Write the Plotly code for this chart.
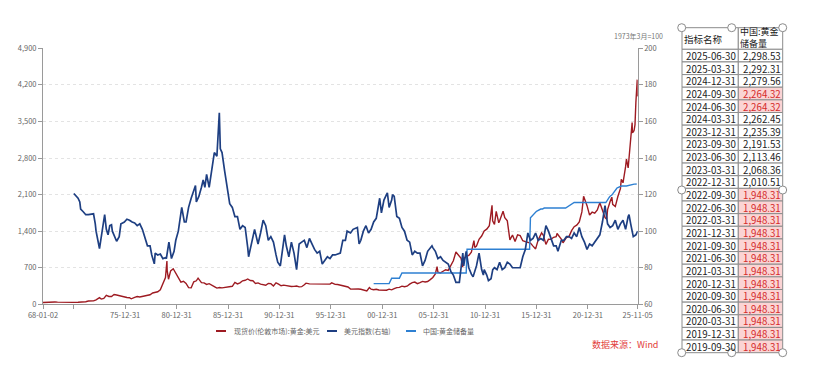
import plotly.graph_objects as go

W, H = 821, 380

# ---------------- data ----------------
gold_dates = ["1968-01-02","1968-03","1968-06","1968-12","1969-03","1969-06","1969-12","1970-06","1970-12","1971-06","1971-12",
"1972-03","1972-06","1972-09","1972-12","1973-03","1973-06","1973-07","1973-09","1973-12","1974-03","1974-06","1974-09","1974-12",
"1975-03","1975-06","1975-09","1975-12","1976-03","1976-06","1976-08","1976-12","1977-03","1977-06","1977-09","1977-12",
"1978-03","1978-06","1978-09","1978-12","1979-03","1979-06","1979-09","1979-12","1980-01-21","1980-02","1980-03-18","1980-06",
"1980-09","1980-12","1981-03","1981-06","1981-09","1981-12","1982-03","1982-06","1982-09","1982-12","1983-02","1983-06","1983-09",
"1983-12","1984-03","1984-06","1984-09","1984-12","1985-03","1985-06","1985-09","1985-12","1986-03","1986-06","1986-09","1986-12",
"1987-03","1987-06","1987-09","1987-12","1988-03","1988-06","1988-09","1988-12","1989-03","1989-06","1989-09","1989-12",
"1990-03","1990-06","1990-09","1990-12","1991-03","1991-06","1991-09","1991-12","1992-03","1992-06","1992-09","1992-12",
"1993-03","1993-06","1993-08","1993-12","1994-03","1994-06","1994-09","1994-12","1995-03","1995-06","1995-09","1995-12",
"1996-02","1996-06","1996-09","1996-12","1997-03","1997-06","1997-09","1997-12","1998-03","1998-06","1998-09","1998-12",
"1999-03","1999-07","1999-10","1999-12","2000-03","2000-06","2000-09","2000-12","2001-03","2001-06","2001-09","2001-12",
"2002-03","2002-06","2002-09","2002-12","2003-03","2003-06","2003-09","2003-12","2004-03","2004-06","2004-09","2004-12",
"2005-03","2005-06","2005-09","2005-12","2006-03","2006-05","2006-06","2006-09","2006-12","2007-03","2007-06","2007-09",
"2007-12","2008-03","2008-06","2008-09","2008-10-24","2008-12","2009-03","2009-06","2009-09","2009-12","2010-01","2010-03",
"2010-06","2010-09","2010-12","2011-03","2011-06","2011-08","2011-09-05","2011-09-26","2011-12","2012-02","2012-05","2012-06",
"2012-10","2012-12","2013-03","2013-06","2013-09","2013-12","2014-03","2014-06","2014-09","2014-12","2015-03","2015-06",
"2015-09","2015-12","2016-03","2016-07","2016-09","2016-12","2017-03","2017-06","2017-09","2017-12","2018-01","2018-06",
"2018-08","2018-12","2019-03","2019-06","2019-09","2019-12","2020-03","2020-06","2020-08","2020-12","2021-03","2021-06",
"2021-09","2021-12","2022-03","2022-06","2022-09","2022-11","2022-12","2023-03","2023-05","2023-06","2023-09","2023-12",
"2024-03","2024-04","2024-06","2024-09","2024-10","2024-12","2025-01","2025-02","2025-03","2025-04-21","2025-05","2025-06",
"2025-07","2025-08","2025-09","2025-10-20","2025-11-05"]
gold_values = [35.2,38,41,41.5,43,41,35,35.5,37.4,40,43.6,
48,64,65,64.9,84,120,127,100,112,170,150,150,187,
178,166,142,140,130,125,105,134,148,141,154,165,
181,183,217,226,240,278,397,512,830,640,480,640,
680,590,500,425,440,400,320,315,430,450,500,415,410,
380,395,375,340,310,320,315,325,327,345,345,420,390,
410,450,460,485,455,450,400,410,385,370,365,400,
395,352,410,386,355,367,355,353,342,343,350,333,
337,375,405,390,390,385,395,382,390,387,384,387,
410,382,380,369,350,334,332,290,296,296,294,288,
280,255,320,290,278,288,273,272,258,270,290,277,
300,320,323,347,335,346,385,416,425,395,415,438,
428,437,473,513,582,720,613,600,632,662,650,743,
834,1000,930,880,712,870,916,934,996,1218,1087,1113,
1244,1307,1405,1439,1505,1813,1895,1600,1531,1780,1560,1598,
1780,1657,1598,1234,1326,1204,1330,1315,1216,1199,1187,1172,
1114,1060,1232,1366,1322,1146,1245,1242,1283,1296,1355,1250,
1178,1279,1295,1409,1485,1515,1577,1768,2067,1888,1708,1763,
1743,1806,1942,1817,1661,1630,1812,1969,2050,1912,1871,2063,
2214,2390,2326,2634,2780,2609,2800,2940,3115,3480,3290,3300,
3330,3440,3860,4300,3980]

dxy_dates = ["1971-01","1971-04","1971-06","1971-08","1971-09","1971-12","1972-03","1972-06","1972-12","1973-02","1973-03","1973-07",
"1973-09","1974-01","1974-03","1974-05","1974-07","1974-09","1974-10","1974-12","1975-03","1975-06","1975-08","1975-10","1975-12",
"1976-03","1976-06","1976-09","1976-12","1977-03","1977-06","1977-09","1977-12","1978-03","1978-06","1978-08","1978-10-31","1978-12",
"1979-03","1979-06","1979-09","1979-12","1980-01","1980-04","1980-07","1980-10","1980-12","1981-03","1981-07","1981-10","1981-12",
"1982-03","1982-06","1982-08","1982-11","1982-12","1983-03","1983-06","1983-08","1983-10","1983-12","1984-03","1984-06","1984-09",
"1984-12","1985-02-25","1985-04","1985-06","1985-09","1985-12","1986-03","1986-06","1986-09","1986-12","1987-03","1987-06","1987-09",
"1987-12","1988-01","1988-08","1988-12","1989-03","1989-06","1989-09","1989-12","1990-03","1990-06","1990-09","1990-11","1991-02",
"1991-07","1991-09","1991-12","1992-03","1992-06","1992-09","1992-12","1993-03","1993-06","1993-09","1993-12","1994-03","1994-06",
"1994-09","1994-12","1995-03","1995-06","1995-09","1995-12","1996-03","1996-06","1996-12","1997-03","1997-06","1997-08","1997-12",
"1998-03","1998-08","1998-10","1998-12","1999-03","1999-06","1999-09","1999-12","2000-03","2000-06","2000-10","2000-12","2001-03",
"2001-07","2001-09","2001-12","2002-01","2002-03","2002-06","2002-09","2002-12","2003-03","2003-06","2003-09","2003-12","2004-03",
"2004-06","2004-09","2004-12","2005-03","2005-06","2005-11","2005-12","2006-03","2006-06","2006-09","2006-12","2007-03","2007-06",
"2007-09","2007-12","2008-03","2008-07","2008-11","2008-12","2009-03","2009-06","2009-09","2009-11","2010-03","2010-06","2010-09",
"2010-11","2010-12","2011-03","2011-05","2011-08","2011-10","2011-12","2012-03","2012-06","2012-09","2012-12","2013-03","2013-06",
"2013-09","2013-12","2014-03","2014-06","2014-09","2014-12","2015-03","2015-06","2015-09","2015-12","2016-03","2016-06","2016-09",
"2016-12","2017-03","2017-06","2017-09","2017-12","2018-02","2018-06","2018-09","2018-12","2019-03","2019-06","2019-09","2019-12",
"2020-03","2020-06","2020-09","2020-12","2021-03","2021-06","2021-09","2021-12","2022-03","2022-06","2022-09","2022-12","2023-03",
"2023-06","2023-09","2023-12","2024-03","2024-06","2024-09","2024-12","2025-01","2025-03","2025-06","2025-09","2025-11-05"]
dxy_values = [120.6,119,118,116,112,110.6,109,109,109.5,104,100,90.5,
97,109,101,98,103,103.5,100,98,94.5,97,104,104.5,105,
106.5,106,105,104.5,103,104,101,97,92,92,87,82.1,88,
87,87.5,85,85.5,85,94,85,89,95,100,113,105,105,
113,118,121,125,116,119,124,128,124,131,124,133,143,
141,164.7,145,143,133,123,115,113,108,108,101,103,102,
91,86,101,93,99,106,103,95,97,94,87,83,81,
98,92,86,94,88,79,93,94,95,91,96,93,90,
88,89,82,84,86,85,87,87,88,95,95,100,99,
101,102,93,95,100,103,99,101,105,107,118,110,117,
121,113,117,120,119,108,107,102,100,95,94,87,89,
88,88,81,84,89,92,91,89,85,86,84,83,82,
78,76,72,72,88,81,89,80,76.5,75,81,88,79,
76,79,76,73,74,79,80,79,83,79,80,83,82,
80,80,80,80,86,90,99,95,96,99,95,96,95,
103,100,96,92,92,89,95,95,97,97,96,99,97,
102,97,94,90,93,92,94,96,98,105,114,104,102,
103,106,101,104,106,101,108,109,104,97,98,100]

cn_dates = ["2000-03","2001-09","2001-12","2002-09","2002-12","2009-03","2009-04","2015-05","2015-06","2015-07","2015-08",
"2015-09","2015-10","2015-11","2015-12","2016-01","2016-02","2016-03","2016-04","2016-05","2016-06","2016-08","2016-09",
"2016-10","2018-11","2018-12","2019-01","2019-02","2019-03","2019-04","2019-05","2019-06","2019-07","2019-08","2019-09",
"2022-10","2022-11","2022-12","2023-01","2023-02","2023-03","2023-04","2023-05","2023-06","2023-07","2023-08","2023-09",
"2023-10","2023-11","2023-12","2024-01","2024-02","2024-03","2024-04","2024-10","2024-11","2024-12","2025-01","2025-02",
"2025-03","2025-04","2025-05","2025-06","2025-07","2025-08","2025-09","2025-10"]
cn_values = [395,395,500,500,600,600,1054,1054,1658,1677,1693,
1708,1722,1743,1762,1779,1788,1798,1805,1814,1823,1823,1838,
1842,1842,1852,1864,1874,1885,1895,1911,1926,1936,1942,1948.31,
1948.31,1980,2010.51,2025,2050,2068.36,2076,2092,2113.46,2137,2165,2191.53,
2215,2226,2235.39,2245,2257,2262.45,2264.32,2264.32,2269,2279.56,2285,2290,
2292.31,2294,2296,2298.53,2300,2301,2303,2304]

table_header = ["指标名称", "中国:黄金<br>储备量"]
table_dates = ["2025-06-30","2025-03-31","2024-12-31","2024-09-30","2024-06-30","2024-03-31","2023-12-31","2023-09-30",
"2023-06-30","2023-03-31","2022-12-31","2022-09-30","2022-06-30","2022-03-31","2021-12-31","2021-09-30","2021-06-30",
"2021-03-31","2020-12-31","2020-09-30","2020-06-30","2020-03-31","2019-12-31","2019-09-30"]
table_values = [2298.53,2292.31,2279.56,2264.32,2264.32,2262.45,2235.39,2191.53,2113.46,2068.36,2010.51,
1948.31,1948.31,1948.31,1948.31,1948.31,1948.31,1948.31,1948.31,1948.31,1948.31,1948.31,1948.31,1948.31]
table_flag = [0,0,0,1,1,0,0,0,0,0,0,1,1,1,1,1,1,1,1,1,1,1,1,1]

x_tickvals = ["1968-01-02","1970-12-31","1975-12-31","1980-12-31","1985-12-31","1990-12-31","1995-12-31",
              "2000-12-31","2005-12-31","2010-12-31","2015-12-31","2020-12-31","2025-11-05"]
x_ticktext = ["68-01-02","","75-12-31","80-12-31","85-12-31","90-12-31","95-12-31",
              "00-12-31","05-12-31","10-12-31","15-12-31","20-12-31","25-11-05"]

names = ["现货价(伦敦市场):黄金:美元", "美元指数(右轴)", "中国:黄金储备量"]
colors = ["#9e1b22", "#1e3f82", "#2e80d2"]

FONT = "Noto Sans CJK SC, Microsoft YaHei, sans-serif"


def px(x):
    return x / W


def py(y):
    return 1 - y / H


fig = go.Figure()
fig.add_trace(go.Scatter(x=gold_dates, y=gold_values, name=names[0], mode="lines",
                         line=dict(color=colors[0], width=1.4), yaxis="y"))
fig.add_trace(go.Scatter(x=dxy_dates, y=dxy_values, name=names[1], mode="lines",
                         line=dict(color=colors[1], width=1.7), yaxis="y2"))
fig.add_trace(go.Scatter(x=cn_dates, y=cn_values, name=names[2], mode="lines",
                         line=dict(color=colors[2], width=1.4), yaxis="y"))

axis_common = dict(showline=True, linecolor="#9a9a9a", linewidth=1, ticks="outside", ticklen=4,
                   tickcolor="#9a9a9a", tickfont=dict(family=FONT, size=7.5, color="#666666"),
                   zeroline=False, automargin=False)

fig.update_layout(
    width=W, height=H, margin=dict(l=0, r=0, t=0, b=0, autoexpand=False),
    paper_bgcolor="white", plot_bgcolor="white", showlegend=False,
    font=dict(family=FONT),
    xaxis=dict(type="date", domain=[px(43), px(637.7)], range=["1968-01-02", "2025-11-05"],
               tickmode="array", tickvals=x_tickvals, ticktext=x_ticktext, showgrid=False, **axis_common),
    yaxis=dict(domain=[py(304.3), py(48.3)], range=[0, 4900], dtick=700, tick0=0, tickformat=",",
               showgrid=True, gridcolor="#e3e3e3", griddash="dot", **axis_common),
    yaxis2=dict(overlaying="y", side="right", anchor="x", range=[60, 200], dtick=20, tick0=60,
                showgrid=False, **axis_common),
)

# ---------- table (drawn as cells) ----------
TX0, TX1, TX2 = 682, 738.3, 782.7
TY0, TY1, TY2 = 27.7, 49.3, 352.7
ROW_H = (TY2 - TY1) / len(table_dates)
CELL_FS = ROW_H / 1.3          # plotly line pitch is 1.3em -> one text line per row
BORDER = "#8c8c8c"

for x0, x1 in ((TX0, TX1), (TX1, TX2)):
    fig.add_shape(type="rect", xref="paper", yref="paper", x0=px(x0), x1=px(x1), y0=py(TY1), y1=py(TY0),
                  line=dict(color=BORDER, width=1), fillcolor="white", layer="above")
fig.add_annotation(xref="paper", yref="paper", x=px(TX0 + 1), y=py(39), text=table_header[0], showarrow=False,
                   xanchor="left", yanchor="middle", borderpad=0,
                   font=dict(family=FONT, size=9.5, color="#222222"))
fig.add_annotation(xref="paper", yref="paper", x=px(TX1 + 1), y=py(37.8), text=table_header[1], showarrow=False,
                   xanchor="left", yanchor="middle", align="left", borderpad=0,
                   font=dict(family=FONT, size=9, color="#222222"))

for i, f in enumerate(table_flag):
    y0 = TY1 + i * ROW_H
    y1 = y0 + ROW_H
    fig.add_shape(type="rect", xref="paper", yref="paper", x0=px(TX0), x1=px(TX1), y0=py(y1), y1=py(y0),
                  line=dict(color=BORDER, width=1), fillcolor="white", layer="above")
    fig.add_shape(type="rect", xref="paper", yref="paper", x0=px(TX1), x1=px(TX2), y0=py(y1), y1=py(y0),
                  line=dict(color=BORDER, width=1), fillcolor="#fbd4d4" if f else "white", layer="above")

val_lines = [
    (f'<span style="color:#d42a2a">{v:,.2f}</span>' if f else f"{v:,.2f}")
    for v, f in zip(table_values, table_flag)
]
ymid = (TY1 + TY2) / 2
fig.add_annotation(xref="paper", yref="paper", x=px(TX1 - 1), y=py(ymid), text="<br>".join(table_dates),
                   showarrow=False, xanchor="right", yanchor="middle", align="right", borderpad=0,
                   font=dict(family=FONT, size=CELL_FS, color="#222222"))
fig.add_annotation(xref="paper", yref="paper", x=px(TX2 - 0.5), y=py(ymid), text="<br>".join(val_lines),
                   showarrow=False, xanchor="right", yanchor="middle", align="right", borderpad=0,
                   font=dict(family=FONT, size=CELL_FS, color="#222222"))

# manual legend
leg = [(216, 226, 232, names[0]), (327, 337, 342, names[1]), (406, 416, 421, names[2])]
for (x0, x1, xt, nm), c in zip(leg, colors):
    fig.add_shape(type="line", xref="paper", yref="paper", x0=px(x0), x1=px(x1), y0=py(331), y1=py(331),
                  line=dict(color=c, width=2))
    fig.add_annotation(xref="paper", yref="paper", x=px(xt), y=py(331), text=nm, showarrow=False,
                       xanchor="left", yanchor="middle", font=dict(family=FONT, size=7, color="#666666"))

fig.add_annotation(xref="paper", yref="paper", x=px(638), y=py(36), text="1973年3月=100", showarrow=False,
                   xanchor="center", yanchor="middle", font=dict(family=FONT, size=7, color="#777777"))
fig.add_annotation(xref="paper", yref="paper", x=px(660), y=py(344), text="数据来源：Wind", showarrow=False,
                   xanchor="right", yanchor="middle", font=dict(family=FONT, size=9, color="#e2403a"))

# selection handles around the table picture
handles = [(681.7, 27.7), (731.7, 27.7), (782.7, 27.7), (681.7, 190), (782.7, 190),
           (681.7, 352.7), (731.7, 352.7), (782.7, 352.7)]
for hx, hy in handles:
    fig.add_shape(type="circle", xref="paper", yref="paper", x0=px(hx - 4), x1=px(hx + 4),
                  y0=py(hy + 4), y1=py(hy - 4), line=dict(color="#8a8a8a", width=1),
                  fillcolor="white", layer="above")

fig.write_html("out.html", config={"displayModeBar": False},
               post_script="document.body.style.margin='0';")
